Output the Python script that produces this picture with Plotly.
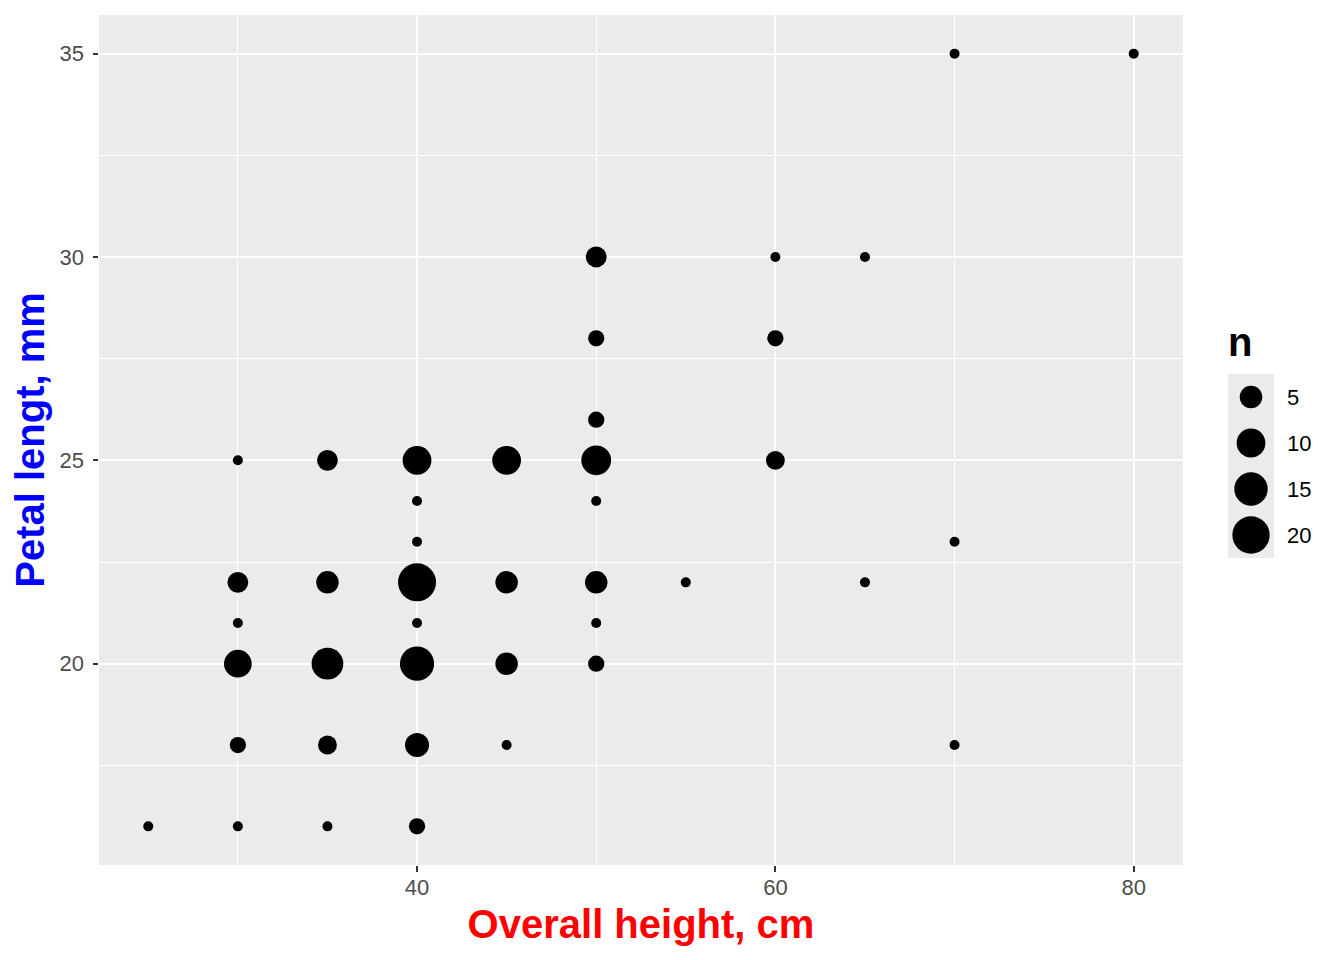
import plotly.graph_objects as go
import numpy as np

# ---- data ----
height_cm = [25, 30, 35, 40, 30, 35, 40, 45, 70, 30, 35, 40, 45, 50, 30, 40, 50,
             30, 35, 40, 45, 50, 55, 65, 40, 70, 40, 50, 30, 35, 40, 45, 50, 60,
             50, 50, 60, 50, 60, 65, 70, 80]
petal_mm = [16, 16, 16, 16, 18, 18, 18, 18, 18, 20, 20, 20, 20, 20, 21, 21, 21,
            22, 22, 22, 22, 22, 22, 22, 23, 23, 24, 24, 25, 25, 25, 25, 25, 25,
            26, 28, 28, 30, 30, 30, 35, 35]
n_count = [1, 1, 1, 2, 2, 3, 6, 1, 1, 9, 13, 16, 5, 2, 1, 1, 1,
           4, 5, 21, 5, 5, 1, 1, 1, 1, 1, 1, 1, 4, 10, 10, 11, 3,
           2, 2, 2, 4, 1, 1, 1, 1]

x_major = [40, 60, 80]
x_minor = [30, 50, 70]
y_major = [20, 25, 30, 35]
y_minor = [17.5, 22.5, 27.5, 32.5]
size_breaks = [5, 10, 15, 20]

# ---- size scale (area) ----
D_MIN, D_MAX = 10.0, 38.0
n_min, n_max = min(n_count), max(n_count)


def size_scale(v):
    v = np.asarray(v, dtype=float)
    return D_MIN + (D_MAX - D_MIN) * np.sqrt((v - n_min) / (n_max - n_min))


# page offset (default body margin of the html page)
OFF = 8
W, H = 1344 - OFF, 960 - OFF
ML, MR, MT, MB = 99 - OFF, 20, 15 - OFF, 95
PW = W - ML - MR
PH = H - MT - MB


def px_x(p):
    return (p - OFF - ML) / PW


def px_y(p):
    return (OFF + H - MB - p) / PH


font_fam = "Liberation Sans, Arial, Helvetica, sans-serif"

x_lo, x_hi = min(height_cm), max(height_cm)
y_lo, y_hi = min(petal_mm), max(petal_mm)
xr = [x_lo - 0.05 * (x_hi - x_lo), x_hi + 0.05 * (x_hi - x_lo)]
yr = [y_lo - 0.05 * (y_hi - y_lo), y_hi + 0.05 * (y_hi - y_lo)]

fig = go.Figure()
fig.add_trace(go.Scatter(
    x=height_cm, y=petal_mm, mode="markers",
    marker=dict(size=size_scale(n_count), color="black", opacity=1, line=dict(width=0)),
    xaxis="x", yaxis="y", showlegend=False, hoverinfo="x+y+text",
    text=[f"n={v}" for v in n_count],
))
# legend keys drawn through a secondary axis
fig.add_trace(go.Scatter(
    x=[0.5] * len(size_breaks), y=size_breaks, mode="markers",
    marker=dict(size=size_scale(size_breaks), color="black", opacity=1, line=dict(width=0)),
    xaxis="x2", yaxis="y2", showlegend=False, hoverinfo="skip",
))

TICK_FS = 22

tick_common = dict(
    ticks="outside", ticklen=5.5, tickwidth=2.1, tickcolor="#333333",
    tickfont=dict(family=font_fam, size=TICK_FS, color="#4D4D4D"),
    showline=False, zeroline=False,
    gridcolor="white", gridwidth=2.1,
)

main_right = px_x(1183)

fig.update_layout(
    width=W, height=H,
    margin=dict(l=ML, r=MR, t=MT, b=MB, autoexpand=False),
    paper_bgcolor="white", plot_bgcolor="#EBEBEB",
    showlegend=False,
    font=dict(family=font_fam),
    xaxis=dict(
        domain=[0, main_right], range=xr, anchor="y",
        tickvals=x_major, **tick_common,
        ticklabelstandoff=-3,
        minor=dict(tickvals=x_minor, showgrid=True, gridcolor="white", gridwidth=1.1, ticks=""),
        title=dict(text="<b>Overall height, cm</b>", standoff=11,
                   font=dict(family=font_fam, size=40, color="red")),
    ),
    yaxis=dict(
        domain=[0, 1], range=yr, anchor="x",
        tickvals=y_major, **tick_common,
        ticklabelstandoff=4,
        minor=dict(tickvals=y_minor, showgrid=True, gridcolor="white", gridwidth=1.1, ticks=""),
        title=dict(text="<b>Petal lengt, mm</b>", standoff=11,
                   font=dict(family=font_fam, size=40, color="blue")),
    ),
    xaxis2=dict(
        domain=[px_x(1228), px_x(1274)], range=[0, 1], anchor="y2",
        showgrid=False, zeroline=False, showline=False, showticklabels=False,
        ticks="", fixedrange=True,
    ),
    yaxis2=dict(
        domain=[px_y(558), px_y(374)], range=[22.5, 2.5], anchor="x2", side="right",
        tickvals=size_breaks, ticks="", showgrid=False, zeroline=False, showline=False,
        ticklabelstandoff=12,
        tickfont=dict(family=font_fam, size=TICK_FS, color="black"), fixedrange=True,
    ),
    annotations=[dict(
        text="<b>n</b>", xref="paper", yref="paper", x=px_x(1226), y=px_y(342),
        xanchor="left", yanchor="middle", showarrow=False,
        font=dict(family=font_fam, size=40, color="black"),
    )],
)

fig.write_html("out.html")
